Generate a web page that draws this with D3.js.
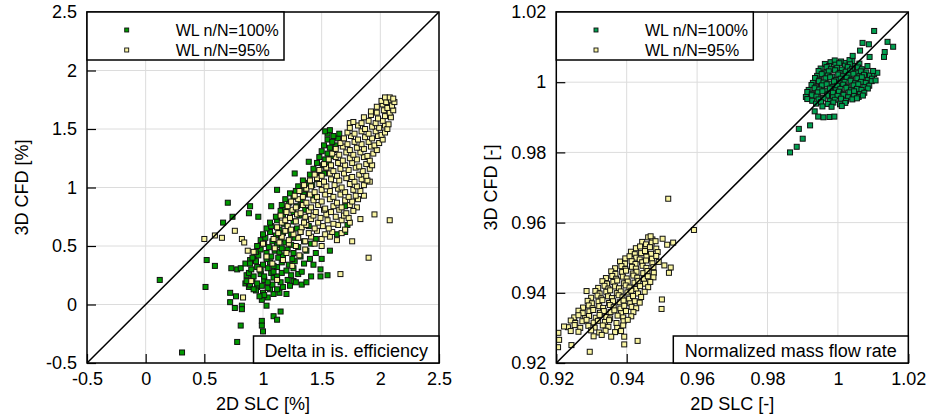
<!DOCTYPE html>
<html>
<head>
<meta charset="utf-8">
<script src="https://cdn.jsdelivr.net/npm/d3@7"></script>
<style>
  body { margin: 0; background: #fff; }
  svg { display: block; }
  text { font-family: "Liberation Sans", Arial, Helvetica, sans-serif; fill: #000; }
</style>
</head>
<body>
<svg id="chart" width="928" height="418"></svg>
<script>
// ---- data -------------------------------------------------------------
const seriesNames = ["WL n/N=100%", "WL n/N=95%"];

const effTicks = [-0.5, 0, 0.5, 1, 1.5, 2, 2.5];
const effTickLabels = ["-0.5", "0", "0.5", "1", "1.5", "2", "2.5"];
const flowTicks = [0.92, 0.94, 0.96, 0.98, 1.0, 1.02];
const flowTickLabels = ["0.92", "0.94", "0.96", "0.98", "1", "1.02"];

// Delta in isentropic efficiency [%]: [2D SLC, 3D CFD]
const effWL100 = [
  [0.12,0.21],[0.31,-0.41],[0.51,0.15],[0.52,0.38],[0.59,0.33],[0.70,0.87],[0.66,0.70],[0.74,0.75],
  [0.89,0.84],[0.88,0.78],[0.96,0.75],[1.07,0.84],[0.72,0.10],[0.72,0.02],[0.77,0.07],[0.76,-0.03],
  [0.82,-0.01],[0.82,-0.04],[0.81,-0.18],[0.78,-0.32],[0.99,-0.14],[1.00,-0.23],[0.99,-0.18],[1.09,-0.10],
  [1.12,-0.13],[1.15,-0.06],[0.99,0.04],[1.04,0.06],[1.03,-0.01],[1.09,0.09],[1.20,0.09],[1.26,0.20],
  [1.33,0.17],[1.37,0.19],[1.41,0.24],[1.49,0.24],[1.55,0.25],[1.49,0.30],[1.50,0.39],[1.57,0.46],
  [1.63,0.60],[1.70,0.62],[1.72,0.68],[1.70,0.84],[1.27,1.12],[1.39,1.22],[1.12,0.98],[0.73,0.31],
  [0.78,0.30],[0.81,0.31],[0.85,0.35],[0.92,0.39],[0.86,0.25],[0.85,0.18],[0.88,0.15],[0.95,0.15],
  [1.00,0.10],[0.89,0.38],
  [0.94,0.12],[1.01,0.08],[1.06,0.13],[1.14,0.10],[0.97,0.07],
  [0.89,0.17],[0.92,0.13],[0.99,0.16],[1.04,0.14],[1.08,0.17],[1.12,0.13],[1.23,0.16],[1.17,0.15],
  [0.86,0.20],[0.91,0.22],[0.95,0.18],[1.01,0.21],[1.04,0.19],[1.09,0.23],[1.15,0.19],[1.21,0.21],[1.28,0.19],
  [0.88,0.27],[0.92,0.24],[0.98,0.26],[1.01,0.24],[1.07,0.27],[1.12,0.24],[1.16,0.27],[1.24,0.25],[1.30,0.26],
  [0.90,0.30],[0.95,0.32],[0.98,0.29],[1.04,0.31],[1.09,0.28],[1.12,0.32],[1.20,0.29],[1.26,0.31],[1.33,0.28],
  [0.89,0.35],[0.94,0.37],[1.00,0.34],[1.06,0.36],[1.09,0.33],[1.16,0.36],[1.22,0.34],[1.27,0.37],[1.35,0.35],[1.43,0.34],
  [0.91,0.40],[0.96,0.42],[1.03,0.39],[1.07,0.41],[1.13,0.40],[1.17,0.42],[1.25,0.39],[1.32,0.41],[1.40,0.39],
  [0.94,0.45],[0.98,0.47],[1.03,0.44],[1.10,0.46],[1.14,0.45],[1.21,0.47],[1.26,0.44],[1.37,0.46],[1.45,0.44],
  [0.95,0.50],[1.01,0.52],[1.05,0.49],[1.12,0.51],[1.16,0.48],[1.24,0.51],[1.30,0.49],[1.41,0.52],
  [0.98,0.55],[1.02,0.57],[1.08,0.54],[1.15,0.56],[1.19,0.53],[1.27,0.57],[1.35,0.54],[1.45,0.56],
  [1.00,0.60],[1.06,0.62],[1.11,0.59],[1.17,0.61],[1.24,0.60],[1.32,0.62],
  [1.03,0.65],[1.07,0.67],[1.14,0.64],[1.21,0.66],[1.29,0.65],[1.39,0.67],
  [1.06,0.70],[1.12,0.72],[1.18,0.69],[1.26,0.71],[1.35,0.70],
  [1.11,0.75],[1.17,0.77],[1.23,0.74],[1.31,0.76],
  [1.15,0.80],[1.19,0.82],[1.26,0.79],[1.36,0.81],
  [1.16,0.85],[1.22,0.87],[1.29,0.84],
  [1.19,0.90],[1.26,0.92],[1.32,0.89],[1.43,0.91],
  [1.23,0.95],[1.28,0.97],[1.35,0.94],
  [1.30,1.01],[1.36,0.99],[1.42,1.02],
  [1.34,1.06],[1.39,1.04],[1.46,1.07],
  [1.40,1.11],[1.46,1.09],[1.52,1.12],
  [1.43,1.16],[1.48,1.14],[1.54,1.17],
  [1.46,1.21],[1.51,1.19],[1.56,1.22],
  [1.48,1.26],[1.53,1.24],[1.58,1.27],
  [1.50,1.31],[1.55,1.29],[1.60,1.32],
  [1.52,1.36],[1.57,1.34],[1.62,1.36],
  [1.55,1.41],[1.59,1.39],[1.64,1.42],
  [1.55,1.46],[1.60,1.44],[1.65,1.46],
  [1.53,1.48],[1.57,1.49]
];

const effWL95 = [
  [0.50,0.56],[0.59,0.59],[0.65,0.57],[0.76,0.63],[0.82,0.56],[0.84,0.53],[0.87,0.46],[0.83,0.06],
  [1.66,0.26],[1.76,0.54],[1.90,0.40],[1.83,0.73],[1.95,0.77],[2.08,0.72],[1.80,0.83],[1.86,0.93],
  [1.91,1.05],[1.74,1.55],
  [0.90,0.20],[1.12,0.21],[0.97,0.30],[1.08,0.35],[1.17,0.38],[0.92,0.45],[1.10,0.48],[1.20,0.44],
  [1.03,0.41],[1.28,0.50],[1.36,0.47],[1.44,0.52],[1.50,0.50],[1.31,0.42],[1.14,0.53],[1.22,0.52],
  [1.00,0.52],[1.25,0.33],
  [1.09,0.56],[1.16,0.58],[1.22,0.55],[1.30,0.57],[1.36,0.54],[1.41,0.58],[1.50,0.56],[1.57,0.58],[1.63,0.55],
  [1.13,0.61],[1.19,0.63],[1.26,0.60],[1.32,0.62],[1.39,0.61],[1.46,0.63],[1.53,0.60],[1.59,0.62],[1.67,0.61],
  [1.12,0.66],[1.21,0.67],[1.24,0.64],[1.33,0.66],[1.37,0.68],[1.44,0.65],[1.51,0.67],[1.56,0.65],[1.64,0.68],[1.70,0.64],
  [1.16,0.70],[1.19,0.72],[1.28,0.71],[1.35,0.70],[1.41,0.73],[1.47,0.70],[1.55,0.72],[1.60,0.69],[1.67,0.72],[1.74,0.70],
  [1.15,0.76],[1.23,0.74],[1.29,0.77],[1.36,0.75],[1.43,0.76],[1.49,0.74],[1.54,0.77],[1.62,0.75],[1.69,0.76],[1.73,0.74],
  [1.20,0.79],[1.25,0.81],[1.32,0.78],[1.39,0.80],[1.45,0.79],[1.52,0.81],[1.58,0.79],[1.65,0.81],[1.71,0.78],[1.77,0.80],
  [1.21,0.84],[1.28,0.83],[1.34,0.85],[1.41,0.83],[1.47,0.85],[1.53,0.82],[1.60,0.84],[1.67,0.83],[1.74,0.85],
  [1.24,0.88],[1.30,0.90],[1.37,0.87],[1.43,0.89],[1.50,0.88],[1.57,0.90],[1.63,0.87],[1.70,0.89],[1.76,0.88],[1.81,0.90],
  [1.27,0.93],[1.34,0.92],[1.40,0.94],[1.46,0.92],[1.53,0.94],[1.60,0.92],[1.66,0.94],[1.73,0.92],[1.79,0.93],
  [1.31,0.97],[1.37,0.99],[1.44,0.96],[1.50,0.98],[1.57,0.97],[1.64,0.99],[1.70,0.96],[1.77,0.98],[1.83,0.97],
  [1.35,1.02],[1.41,1.01],[1.48,1.03],[1.54,1.01],[1.61,1.02],[1.67,1.00],[1.74,1.03],[1.80,1.01],[1.86,1.02],
  [1.40,1.06],[1.46,1.08],[1.52,1.05],[1.58,1.07],[1.65,1.06],[1.71,1.08],[1.78,1.05],[1.84,1.07],[1.89,1.06],
  [1.44,1.11],[1.50,1.10],[1.57,1.12],[1.63,1.10],[1.69,1.12],[1.76,1.09],[1.82,1.11],[1.88,1.10],
  [1.48,1.15],[1.54,1.17],[1.60,1.14],[1.66,1.16],[1.73,1.15],[1.79,1.17],[1.85,1.14],[1.91,1.16],
  [1.52,1.20],[1.58,1.19],[1.64,1.21],[1.70,1.19],[1.76,1.21],[1.82,1.18],[1.88,1.20],[1.93,1.19],
  [1.56,1.24],[1.62,1.26],[1.68,1.23],[1.74,1.25],[1.80,1.24],[1.86,1.26],[1.91,1.23],
  [1.59,1.29],[1.65,1.28],[1.71,1.30],[1.77,1.28],[1.83,1.30],[1.89,1.27],[1.94,1.29],
  [1.62,1.33],[1.68,1.35],[1.74,1.32],[1.80,1.34],[1.86,1.33],[1.92,1.35],[1.97,1.32],
  [1.66,1.38],[1.72,1.37],[1.78,1.39],[1.84,1.37],[1.90,1.39],[1.95,1.36],[1.99,1.38],
  [1.69,1.42],[1.75,1.44],[1.81,1.41],[1.87,1.43],[1.93,1.42],[1.98,1.44],[2.02,1.41],
  [1.72,1.47],[1.78,1.46],[1.84,1.48],[1.90,1.46],[1.96,1.48],[2.01,1.45],[2.04,1.47],
  [1.74,1.51],[1.81,1.53],[1.87,1.50],[1.93,1.52],[1.99,1.51],[2.04,1.53],[2.06,1.50],
  [1.77,1.56],[1.84,1.55],[1.90,1.57],[1.96,1.55],[2.02,1.57],[2.07,1.54],
  [1.86,1.60],[1.92,1.62],[1.98,1.59],[2.04,1.61],[2.09,1.60],
  [1.92,1.65],[1.97,1.64],[2.03,1.66],[2.08,1.64],[2.11,1.66],
  [1.97,1.69],[2.02,1.71],[2.06,1.68],[2.10,1.70],
  [2.01,1.74],[2.05,1.73],[2.09,1.75],[2.12,1.73],
  [2.04,1.77],[2.08,1.77],[2.11,1.76]
];

// Normalized mass flow rate [-]: [2D SLC, 3D CFD]
const flowWL100 = [
  [0.9979,1.0057],[0.9991,1.0062],[1.0009,1.0059],[1.0022,1.0055],[1.0041,1.0060],[1.0033,1.0063],
  [0.9963,1.0052],[0.9975,1.0046],[0.9993,1.0050],[1.0004,1.0054],[1.0020,1.0047],[1.0034,1.0051],[1.0049,1.0046],[1.0061,1.0053],
  [0.9951,1.0039],[0.9968,1.0043],[0.9980,1.0037],[0.9998,1.0041],[1.0011,1.0036],[1.0028,1.0043],[1.0040,1.0038],[1.0057,1.0042],[1.0068,1.0037],
  [0.9945,1.0032],[0.9962,1.0027],[0.9974,1.0031],[0.9992,1.0034],[1.0005,1.0026],[1.0022,1.0030],[1.0035,1.0033],[1.0052,1.0027],[1.0065,1.0031],[1.0081,1.0028],
  [0.9941,1.0018],[0.9954,1.0023],[0.9971,1.0019],[0.9984,1.0016],[1.0001,1.0022],[1.0014,1.0017],[1.0031,1.0021],[1.0044,1.0024],[1.0061,1.0017],[1.0074,1.0021],[1.0091,1.0019],[1.0103,1.0023],
  [0.9935,1.0012],[0.9948,1.0007],[0.9965,1.0011],[0.9978,1.0014],[0.9995,1.0006],[1.0008,1.0010],[1.0025,1.0013],[1.0038,1.0007],[1.0055,1.0011],[1.0068,1.0014],[1.0085,1.0006],[1.0097,1.0010],
  [0.9929,0.9998],[0.9946,1.0003],[0.9959,0.9999],[0.9976,0.9996],[0.9989,1.0002],[1.0006,0.9997],[1.0019,1.0001],[1.0036,1.0004],[1.0049,0.9997],[1.0066,1.0001],[1.0079,0.9998],[1.0096,1.0003],
  [0.9925,0.9992],[0.9938,0.9987],[0.9955,0.9991],[0.9968,0.9994],[0.9985,0.9986],[0.9998,0.9990],[1.0015,0.9993],[1.0028,0.9987],[1.0045,0.9991],[1.0058,0.9994],[1.0075,0.9986],[1.0089,0.9990],
  [0.9917,0.9978],[0.9934,0.9983],[0.9947,0.9979],[0.9964,0.9976],[0.9977,0.9982],[0.9994,0.9977],[1.0007,0.9981],[1.0024,0.9984],[1.0037,0.9977],[1.0054,0.9981],[1.0067,0.9978],[1.0085,0.9982],
  [0.9913,0.9972],[0.9926,0.9967],[0.9943,0.9971],[0.9956,0.9974],[0.9973,0.9966],[0.9986,0.9970],[1.0003,0.9973],[1.0016,0.9967],[1.0033,0.9971],[1.0046,0.9974],[1.0063,0.9966],[1.0075,0.9970],
  [0.9909,0.9958],[0.9926,0.9963],[0.9939,0.9959],[0.9956,0.9956],[0.9969,0.9962],[0.9986,0.9957],[0.9999,0.9961],[1.0016,0.9964],[1.0029,0.9957],[1.0046,0.9961],[1.0059,0.9958],[1.0071,0.9962],
  [0.9913,0.9952],[0.9927,0.9947],[0.9945,0.9951],[0.9959,0.9954],[0.9977,0.9946],[0.9991,0.9950],[1.0009,0.9953],[1.0023,0.9947],[1.0041,0.9951],[1.0054,0.9954],
  [0.9938,0.9939],[0.9952,0.9943],[0.9971,0.9938],[0.9987,0.9942],[1.0006,0.9937],[1.0021,0.9941],
  [0.9956,0.9931],[1.0011,0.9932],[0.9982,0.9930],
  [0.9864,0.9800],[0.9883,0.9816],[0.9889,0.9867],[0.9900,0.9839],[0.9921,0.9877],[0.9934,0.9917],[0.9944,0.9902],[0.9959,0.9900],
  [0.9976,0.9901],[0.9990,0.9902],[1.0103,1.0146],[1.0070,1.0112],[1.0088,1.0108],[1.0141,1.0115],[1.0157,1.0101],[1.0133,1.0086],
  [1.0131,1.0072],[1.0063,1.0090],[1.0042,1.0075],[1.0090,1.0072],[1.0084,1.0046],[1.0112,1.0027],[1.0107,1.0005],[1.0100,1.0032]
];

const flowWL95 = [
  [0.9461,0.9558],[0.9473,0.9552],[0.9468,0.9561],
  [0.9444,0.9545],[0.9455,0.9538],[0.9471,0.9543],[0.9482,0.9547],
  [0.9426,0.9527],[0.9438,0.9532],[0.9453,0.9524],[0.9466,0.9530],[0.9484,0.9526],
  [0.9412,0.9517],[0.9423,0.9510],[0.9441,0.9513],[0.9452,0.9519],[0.9469,0.9511],[0.9488,0.9516],
  [0.9396,0.9498],[0.9408,0.9504],[0.9427,0.9500],[0.9437,0.9495],[0.9456,0.9503],[0.9472,0.9497],[0.9484,0.9505],
  [0.9381,0.9489],[0.9395,0.9483],[0.9414,0.9490],[0.9425,0.9482],[0.9444,0.9487],[0.9455,0.9492],[0.9473,0.9484],[0.9491,0.9488],
  [0.9367,0.9470],[0.9385,0.9476],[0.9396,0.9468],[0.9415,0.9474],[0.9426,0.9469],[0.9445,0.9477],[0.9456,0.9471],[0.9476,0.9473],
  [0.9356,0.9461],[0.9368,0.9454],[0.9387,0.9459],[0.9398,0.9463],[0.9417,0.9455],[0.9428,0.9460],[0.9447,0.9456],[0.9459,0.9462],[0.9477,0.9457],
  [0.9341,0.9442],[0.9359,0.9448],[0.9370,0.9440],[0.9389,0.9446],[0.9400,0.9441],[0.9419,0.9449],[0.9430,0.9443],[0.9449,0.9439],[0.9460,0.9447],[0.9476,0.9444],
  [0.9331,0.9433],[0.9344,0.9426],[0.9362,0.9431],[0.9373,0.9435],[0.9392,0.9427],[0.9403,0.9432],[0.9422,0.9429],[0.9433,0.9434],[0.9452,0.9426],[0.9467,0.9431],
  [0.9319,0.9414],[0.9337,0.9420],[0.9348,0.9412],[0.9367,0.9418],[0.9378,0.9413],[0.9397,0.9421],[0.9408,0.9415],[0.9427,0.9411],[0.9438,0.9419],[0.9461,0.9416],
  [0.9311,0.9405],[0.9323,0.9398],[0.9342,0.9403],[0.9353,0.9407],[0.9372,0.9399],[0.9383,0.9404],[0.9402,0.9401],[0.9413,0.9406],[0.9432,0.9398],[0.9451,0.9403],
  [0.9299,0.9386],[0.9317,0.9392],[0.9328,0.9384],[0.9347,0.9390],[0.9358,0.9385],[0.9377,0.9393],[0.9388,0.9387],[0.9407,0.9383],[0.9418,0.9391],[0.9441,0.9388],
  [0.9289,0.9377],[0.9301,0.9370],[0.9320,0.9375],[0.9331,0.9379],[0.9350,0.9371],[0.9361,0.9376],[0.9380,0.9373],[0.9391,0.9378],[0.9410,0.9370],[0.9423,0.9376],[0.9437,0.9372],
  [0.9276,0.9358],[0.9292,0.9364],[0.9303,0.9356],[0.9322,0.9362],[0.9333,0.9357],[0.9352,0.9365],[0.9363,0.9359],[0.9382,0.9355],[0.9393,0.9363],[0.9414,0.9360],[0.9427,0.9356],
  [0.9263,0.9349],[0.9275,0.9342],[0.9294,0.9347],[0.9305,0.9351],[0.9324,0.9343],[0.9335,0.9348],[0.9354,0.9345],[0.9365,0.9350],[0.9384,0.9342],[0.9398,0.9348],[0.9419,0.9345],
  [0.9251,0.9330],[0.9263,0.9336],[0.9282,0.9328],[0.9293,0.9334],[0.9312,0.9329],[0.9323,0.9337],[0.9342,0.9331],[0.9353,0.9327],[0.9374,0.9335],[0.9390,0.9330],[0.9413,0.9333],
  [0.9241,0.9321],[0.9254,0.9314],[0.9274,0.9319],[0.9286,0.9323],[0.9306,0.9315],[0.9318,0.9320],[0.9338,0.9317],[0.9350,0.9322],[0.9371,0.9314],[0.9391,0.9319],[0.9403,0.9323],
  [0.9233,0.9302],[0.9252,0.9308],[0.9268,0.9300],[0.9291,0.9306],[0.9309,0.9301],[0.9332,0.9307],[0.9348,0.9303],[0.9373,0.9300],[0.9390,0.9307],
  [0.9263,0.9289],[0.9299,0.9293],[0.9322,0.9287],[0.9340,0.9292],[0.9367,0.9288],[0.9384,0.9291],
  [0.9306,0.9276],[0.9329,0.9280],[0.9356,0.9275],
  [0.9518,0.9668],[0.9591,0.9579],[0.9500,0.9381],[0.9499,0.9354],[0.9431,0.9263],[0.9393,0.9275],[0.9393,0.9253],[0.9295,0.9232],
  [0.9286,0.9405],[0.9205,0.9245],[0.9208,0.9266],[0.9206,0.9286],[0.9222,0.9304],[0.9243,0.9251],[0.9241,0.9291],[0.9502,0.9554],
  [0.9532,0.9543],[0.9515,0.9537],[0.9507,0.9478],[0.9525,0.9472],[0.9520,0.9457]
];

// ---- layout -----------------------------------------------------------
const panels = [
  {
    id: "eff", left: 87, right: 439, top: 12, bottom: 363,
    domain: [-0.5, 2.5], ticks: effTicks, labels: effTickLabels,
    xTitle: "2D SLC [%]", yTitle: "3D CFD [%]", yTitleX: 28,
    tag: "Delta in is. efficiency", tagLeft: 253.5,
    series: [effWL100, effWL95], colors: ["#009a00", "#faf5a3"]
  },
  {
    id: "flow", left: 556.3, right: 908.3, top: 12, bottom: 363,
    domain: [0.92, 1.02], ticks: flowTicks, labels: flowTickLabels,
    xTitle: "2D SLC [-]", yTitle: "3D CFD [-]", yTitleX: 497,
    tag: "Normalized mass flow rate", tagLeft: 673.3,
    series: [flowWL100, flowWL95], colors: ["#00a050", "#faf5a3"]
  }
];

const svg = d3.select("#chart");
svg.append("rect").attr("width", 928).attr("height", 418).attr("fill", "#fff");

const markerSize = 5;

panels.forEach(p => {
  const x = d3.scaleLinear().domain(p.domain).range([p.left, p.right]);
  const y = d3.scaleLinear().domain(p.domain).range([p.bottom, p.top]);
  const g = svg.append("g");

  // grid
  const grid = g.append("g").attr("stroke", "#dcdcdc").attr("stroke-width", 1);
  grid.selectAll("line.v").data(p.ticks).join("line")
    .attr("x1", d => x(d)).attr("x2", d => x(d))
    .attr("y1", p.top).attr("y2", p.bottom);
  grid.selectAll("line.h").data(p.ticks).join("line")
    .attr("y1", d => y(d)).attr("y2", d => y(d))
    .attr("x1", p.left).attr("x2", p.right);

  // clip for the plotting area
  const clipId = "clip-" + p.id;
  svg.append("clipPath").attr("id", clipId).append("rect")
    .attr("x", p.left).attr("y", p.top)
    .attr("width", p.right - p.left).attr("height", p.bottom - p.top);

  const pts = g.append("g").attr("clip-path", `url(#${clipId})`);
  p.series.forEach((data, i) => {
    pts.append("g")
      .selectAll("rect").data(data).join("rect")
      .attr("x", d => x(d[0]) - markerSize / 2)
      .attr("y", d => y(d[1]) - markerSize / 2)
      .attr("width", markerSize).attr("height", markerSize)
      .attr("fill", p.colors[i])
      .attr("stroke", "#111").attr("stroke-width", 1);
  });

  // 1:1 line
  pts.append("line")
    .attr("x1", x(p.domain[0])).attr("y1", y(p.domain[0]))
    .attr("x2", x(p.domain[1])).attr("y2", y(p.domain[1]))
    .attr("stroke", "#000").attr("stroke-width", 1.5);

  // axes with inward ticks
  const ax = g.append("g").attr("transform", `translate(0,${p.bottom})`)
    .call(d3.axisBottom(x).tickValues(p.ticks)
      .tickFormat((d, i) => p.labels[i])
      .tickSizeInner(-9).tickSizeOuter(0).tickPadding(9));
  const ay = g.append("g").attr("transform", `translate(${p.left},0)`)
    .call(d3.axisLeft(y).tickValues(p.ticks)
      .tickFormat((d, i) => p.labels[i])
      .tickSizeInner(-9).tickSizeOuter(0).tickPadding(10));
  [ax, ay].forEach(a => {
    a.select(".domain").remove();
    a.selectAll(".tick line").attr("stroke", "#000").attr("stroke-width", 1.2);
    a.selectAll("text").attr("font-size", 18).attr("fill", "#000")
      .attr("font-family", "'Liberation Sans', Arial, sans-serif");
  });

  // frame
  g.append("rect")
    .attr("x", p.left).attr("y", p.top)
    .attr("width", p.right - p.left).attr("height", p.bottom - p.top)
    .attr("fill", "none").attr("stroke", "#000").attr("stroke-width", 1.5);

  // legend
  const lg = g.append("g");
  lg.append("rect")
    .attr("x", p.left).attr("y", p.top)
    .attr("width", 197).attr("height", 48)
    .attr("fill", "#fff").attr("stroke", "#000").attr("stroke-width", 1.5);
  seriesNames.forEach((name, i) => {
    const cy = p.top + 18 + i * 20;
    lg.append("rect")
      .attr("x", p.left + 39.7 - 2).attr("y", cy - 2)
      .attr("width", 4).attr("height", 4)
      .attr("fill", p.colors[i]).attr("stroke", "#111").attr("stroke-width", 0.9);
    lg.append("text")
      .attr("x", p.left + 88.7).attr("y", cy + 5.5)
      .attr("font-size", 16)
      .text(name);
  });

  // panel tag
  g.append("rect")
    .attr("x", p.tagLeft).attr("y", 336)
    .attr("width", p.right - p.tagLeft).attr("height", p.bottom - 336)
    .attr("fill", "#fff").attr("stroke", "#000").attr("stroke-width", 1.5);
  g.append("text")
    .attr("x", (p.tagLeft + p.right) / 2).attr("y", 356.5)
    .attr("text-anchor", "middle").attr("font-size", 18)
    .text(p.tag);

  // axis titles
  g.append("text")
    .attr("x", (p.left + p.right) / 2).attr("y", 409.5)
    .attr("text-anchor", "middle").attr("font-size", 18)
    .text(p.xTitle);
  g.append("text")
    .attr("transform", `translate(${p.yTitleX},${(p.top + p.bottom) / 2}) rotate(-90)`)
    .attr("text-anchor", "middle").attr("font-size", 18)
    .text(p.yTitle);
});
</script>
</body>
</html>
